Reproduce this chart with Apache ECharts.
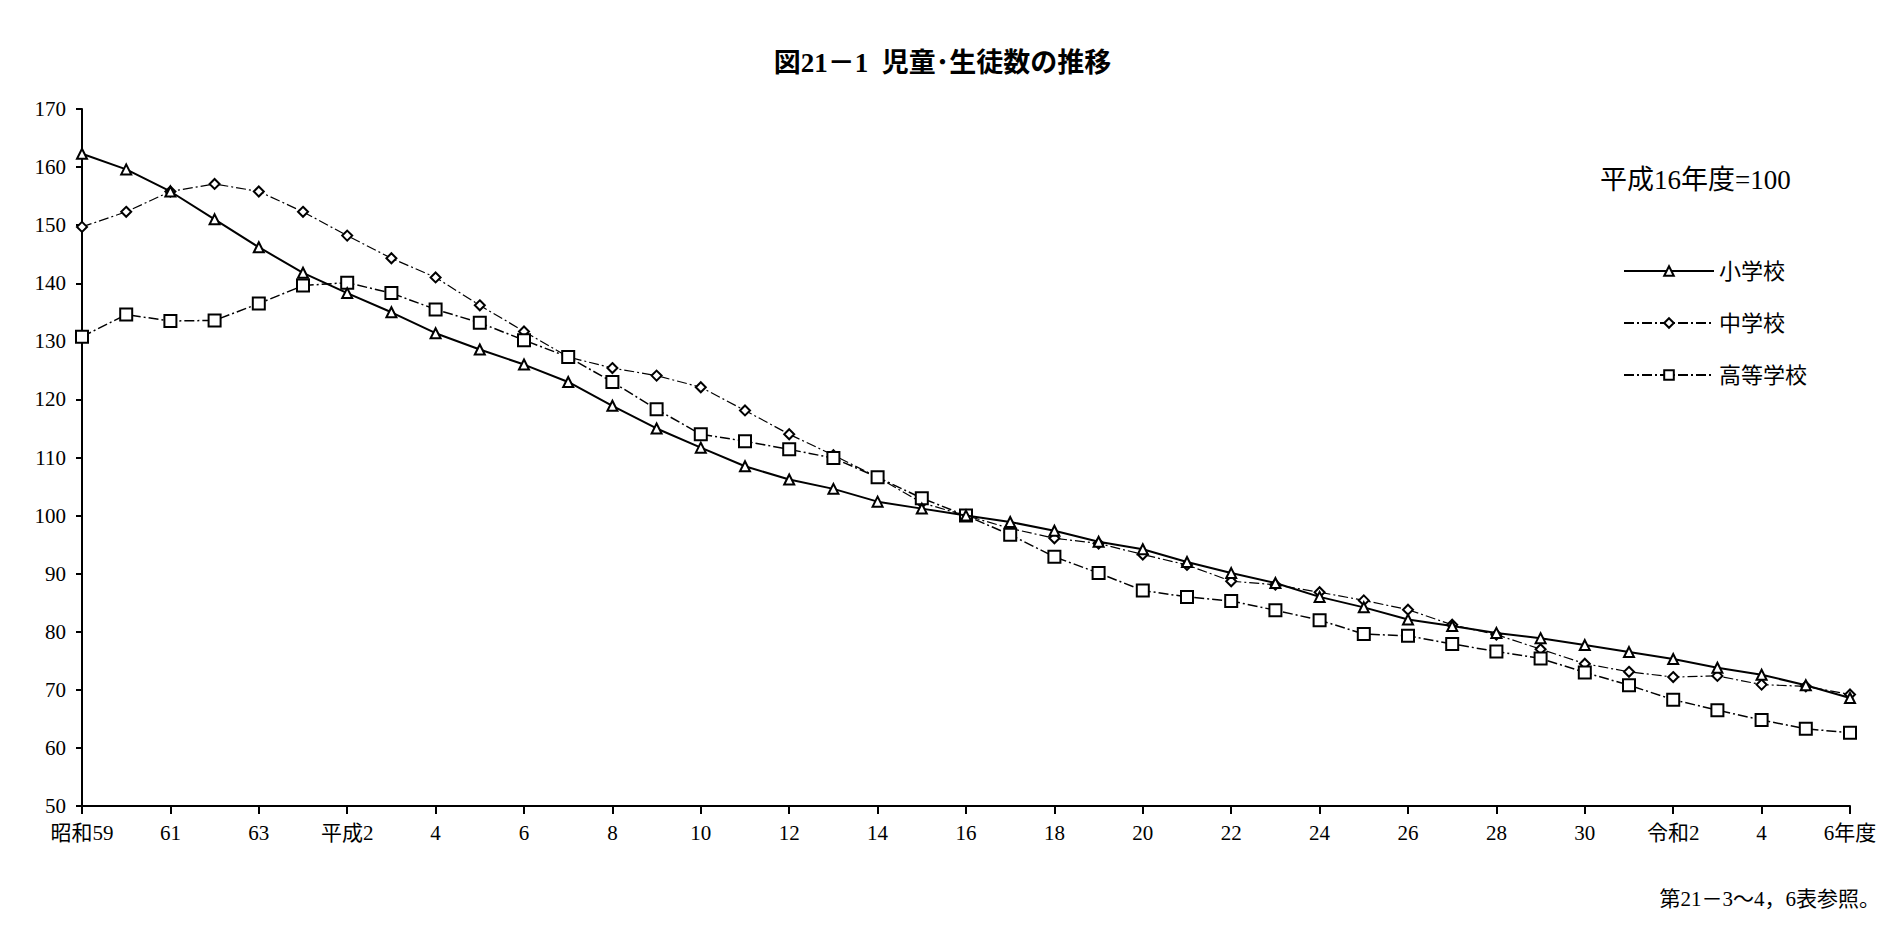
<!DOCTYPE html>
<html><head><meta charset="utf-8">
<script src="https://cdn.jsdelivr.net/npm/echarts@6/dist/echarts.min.js"></script>
<style>html,body{margin:0;background:#fff}#c{width:1885px;height:930px}</style>
</head><body><div id="c"></div>
<script>
// 昭和59 .. 令和6 (41 years)
var years = ['昭和59','60','61','62','63','平成元','2','3','4','5','6','7','8','9','10','11','12','13','14','15','16','17','18','19','20','21','22','23','24','25','26','27','28','29','30','令和元','2','3','4','5','6年度'];
var tickLabels = {0:'昭和59',2:'61',4:'63',6:'平成2',36:'令和2',40:'6年度'};
var elementary = [162.3,159.6,155.8,151,146.2,141.8,138.3,135,131.4,128.6,126,123,118.9,115,111.7,108.5,106.2,104.6,102.4,101.2,100,98.9,97.4,95.5,94.2,92,90.1,88.4,86,84.2,82.1,81,79.8,78.9,77.7,76.5,75.3,73.8,72.6,70.8,68.6];
var juniorHigh = [149.7,152.3,155.8,157.1,155.8,152.3,148.2,144.3,141,136.2,131.7,127.3,125.4,124.1,122.1,118.1,114,110.4,106.6,102.2,100,97.8,96.1,95.2,93.3,91.5,88.7,88.1,86.8,85.4,83.8,81.2,79.5,77,74.5,73.1,72.2,72.4,70.9,70.6,69.2];
var highSchool = [130.8,134.6,133.5,133.6,136.5,139.6,140.1,138.3,135.5,133.2,130.2,127.3,123,118.3,114,112.8,111.4,109.9,106.6,103,100,96.7,92.9,90.1,87.1,86,85.3,83.7,82,79.6,79.3,77.9,76.6,75.4,73,70.8,68.3,66.5,64.8,63.3,62.6];

var font = '"Liberation Serif","Noto Sans CJK JP",serif';
var chart = echarts.init(document.getElementById('c'), null, { renderer: 'svg' });

function line(name, data, symbol, size, type, width) {
  return {
    name: name, type: 'line', data: data,
    symbol: symbol, symbolSize: size,
    itemStyle: { color: '#fff', borderColor: '#000', borderWidth: 2 },
    lineStyle: { color: '#000', width: width, type: type },
    z: symbol === 'triangle' ? 3 : 2
  };
}

chart.setOption({
  animation: false,
  textStyle: { fontFamily: font, color: '#000' },
  title: {
    text: '図21－1  児童･生徒数の推移', left: 'center', top: 44,
    textStyle: { fontSize: 27, fontWeight: 'bold', fontFamily: font, color: '#000' }
  },
  legend: {
    orient: 'vertical', left: 1618, top: 255, itemGap: 30,
    itemWidth: 90, itemHeight: 12,
    textStyle: { fontSize: 22, fontFamily: font, color: '#000' },
    data: ['小学校','中学校','高等学校']
  },
  graphic: [
    { type: 'text', left: 1600, top: 166, style: { text: '平成16年度=100', fontSize: 27, fontFamily: font, fill: '#000' } },
    { type: 'text', right: 5, top: 888, style: { text: '第21－3～4，6表参照。', fontSize: 21, fontFamily: font, fill: '#000' } }
  ],
  grid: { left: 82, right: 35, top: 109, bottom: 124 },
  xAxis: {
    type: 'category', data: years, boundaryGap: false,
    axisLine: { lineStyle: { color: '#000', width: 2 } },
    axisTick: { interval: 1, length: 8, lineStyle: { color: '#000', width: 2 } },
    axisLabel: {
      interval: 1, fontSize: 21, color: '#000', margin: 16,
      formatter: function (v, i) { return tickLabels[i] || v; }
    }
  },
  yAxis: {
    type: 'value', min: 50, max: 170, interval: 10,
    axisLine: { show: true, lineStyle: { color: '#000', width: 2 } },
    axisTick: { show: true, length: 6, lineStyle: { color: '#000', width: 2 } },
    axisLabel: { fontSize: 21, color: '#000', margin: 16 },
    splitLine: { show: false }
  },
  series: [
    line('小学校', elementary, 'triangle', 10, 'solid', 2),
    line('中学校', juniorHigh, 'diamond', 10, [10,3,2,3], 1.2),
    line('高等学校', highSchool, 'rect', 12, [10,3,2,3], 1.5)
  ]
});
</script></body></html>
